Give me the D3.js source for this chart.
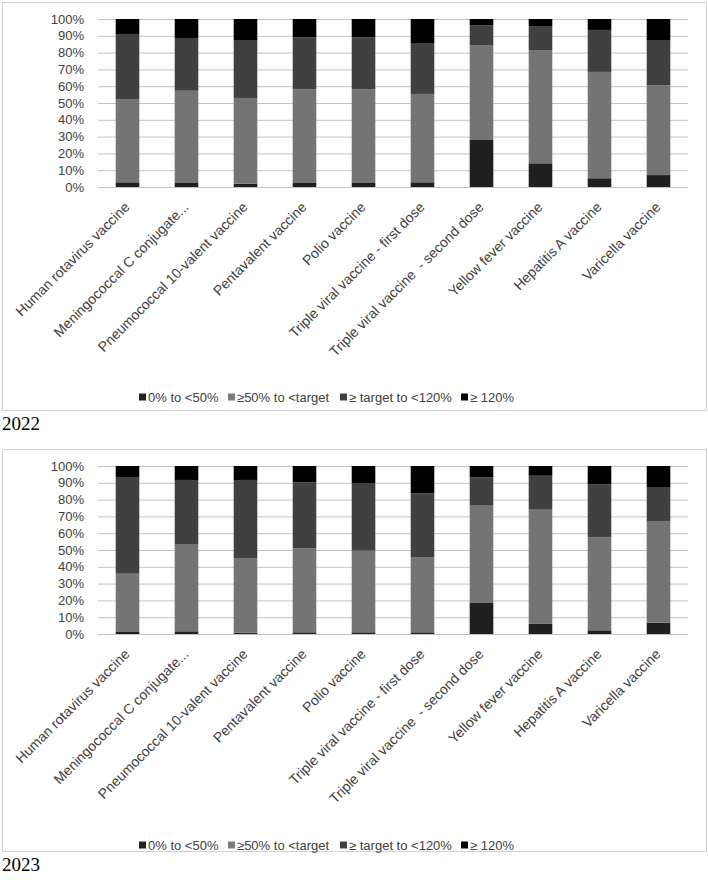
<!DOCTYPE html>
<html>
  <head>
    <meta charset="UTF-8" />
    <style>
      body {
        margin: 0;
        background-color: #ffffff;
      }
      text {
        font-family: "Liberation Sans", Arial, sans-serif;
        white-space: pre;
      }
      .grid line {
        stroke: #c3c3c3;
        stroke-width: 1;
      }
      .year {
        font-family: "Liberation Serif", "Times New Roman", serif;
        font-size: 19px;
        fill: #000;
      }
    </style>
  </head>

  <body>
    <svg id="chart" width="708" height="880"></svg>

    <script src="https://d3js.org/d3.v7.min.js"></script>
    <script>
      const categories = [
        "Human rotavirus vaccine",
        "Meningococcal C conjugate...",
        "Pneumococcal 10-valent vaccine",
        "Pentavalent vaccine",
        "Polio vaccine",
        "Triple viral vaccine - first dose",
        "Triple viral vaccine  - second dose",
        "Yellow fever vaccine",
        "Hepatitis A vaccine",
        "Varicella vaccine",
      ];
      const seriesNames = ["0% to <50%", "≥50% to <target", "≥ target to <120%", "≥ 120%"];
      const yTicks = [0, 10, 20, 30, 40, 50, 60, 70, 80, 90, 100];

      // 2022 (% of municipalities)
      const under50_2022 = [2.8, 2.4, 2.0, 2.4, 2.4, 2.8, 28.0, 14.1, 5.2, 7.1];
      const toTarget_2022 = [49.6, 54.9, 51.0, 55.7, 55.7, 52.6, 56.5, 67.4, 63.3, 53.4];
      const to120_2022 = [38.7, 31.4, 34.1, 31.0, 31.0, 30.3, 11.7, 14.3, 25.0, 26.6];
      const over120_2022 = [8.9, 11.3, 12.9, 10.9, 10.9, 14.3, 3.8, 4.2, 6.5, 12.9];

      // 2023
      const under50_2023 = [1.2, 1.6, 0.8, 1.0, 1.0, 1.0, 18.8, 6.0, 2.2, 6.7];
      const toTarget_2023 = [34.7, 51.6, 44.4, 50.0, 48.6, 44.8, 57.6, 68.0, 55.3, 60.2];
      const to120_2023 = [57.2, 38.5, 46.5, 39.3, 40.3, 37.9, 16.9, 20.2, 31.6, 20.2];
      const over120_2023 = [6.9, 8.3, 8.3, 9.7, 10.1, 16.3, 6.7, 5.8, 10.9, 12.9];

      const colors = ["#1f1f1f", "#747474", "#404040", "#000000"];
      const textColor = "#404040";

      const svg = d3.select("#chart");

      function buildRows(series) {
        return categories.map((c, i) => {
          const row = { cat: c };
          seriesNames.forEach((s, k) => (row[s] = series[k][i]));
          return row;
        });
      }

      function drawPanel(top, boxHeight, series, year, legendY) {
        const g = svg.append("g").attr("transform", `translate(0, ${top})`);

        g.append("rect")
          .attr("x", 2.5)
          .attr("y", 0.5)
          .attr("width", 704)
          .attr("height", boxHeight)
          .attr("fill", "#fff")
          .attr("stroke", "#d0d0d0");

        const plotTop = 17;
        const plotBottom = 185;

        const x = d3
          .scaleBand()
          .domain(categories)
          .range([98, 688])
          .paddingInner(0.6)
          .paddingOuter(0.3);

        const y = d3.scaleLinear().domain([0, 100]).range([plotBottom, plotTop]);

        // gridlines
        g.append("g")
          .attr("class", "grid")
          .attr("transform", "translate(98,0)")
          .call(d3.axisLeft(y).tickValues(yTicks).tickSize(-590).tickFormat(""))
          .call((a) => a.select(".domain").remove());

        // y tick labels
        g.append("g")
          .selectAll("text")
          .data(yTicks)
          .enter()
          .append("text")
          .attr("x", 84)
          .attr("y", (d) => y(d))
          .attr("dy", "0.36em")
          .attr("text-anchor", "end")
          .attr("font-size", "13px")
          .attr("fill", textColor)
          .text((d) => d + "%");

        const stacked = d3.stack().keys(seriesNames)(buildRows(series));

        g.append("g")
          .selectAll("g")
          .data(stacked)
          .enter()
          .append("g")
          .attr("fill", (d, i) => colors[i])
          .selectAll("rect")
          .data((d) => d)
          .enter()
          .append("rect")
          .attr("x", (d) => x(d.data.cat))
          .attr("y", (d) => y(d[1]))
          .attr("height", (d) => y(d[0]) - y(d[1]))
          .attr("width", x.bandwidth());

        // category labels
        g.append("g")
          .selectAll("text")
          .data(categories)
          .enter()
          .append("text")
          .attr(
            "transform",
            (d) => `translate(${x(d) + x.bandwidth() / 2 + 3}, ${plotBottom + 21}) rotate(-45)`
          )
          .attr("text-anchor", "end")
          .attr("font-size", "14px")
          .attr("fill", textColor)
          .text((d) => d);

        // legend
        const legendX = [139, 228, 340, 461];
        const lg = g
          .append("g")
          .selectAll("g")
          .data(seriesNames)
          .enter()
          .append("g")
          .attr("transform", (d, i) => `translate(${legendX[i]}, ${legendY})`);

        lg.append("rect")
          .attr("x", 0)
          .attr("y", -3.5)
          .attr("width", 7)
          .attr("height", 7)
          .attr("fill", (d, i) => (i == 1 ? "#7a7a7a" : colors[i]));

        lg.append("text")
          .attr("x", 9)
          .attr("y", 0)
          .attr("dy", "0.36em")
          .attr("font-size", "13px")
          .attr("fill", textColor)
          .text((d) => d);

        svg
          .append("text")
          .attr("class", "year")
          .attr("x", 2)
          .attr("y", top + boxHeight + 20)
          .text(year);
      }

      drawPanel(2, 408, [under50_2022, toTarget_2022, to120_2022, over120_2022], "2022", 395);
      drawPanel(449, 402, [under50_2023, toTarget_2023, to120_2023, over120_2023], "2023", 396);
    </script>
  </body>
</html>
